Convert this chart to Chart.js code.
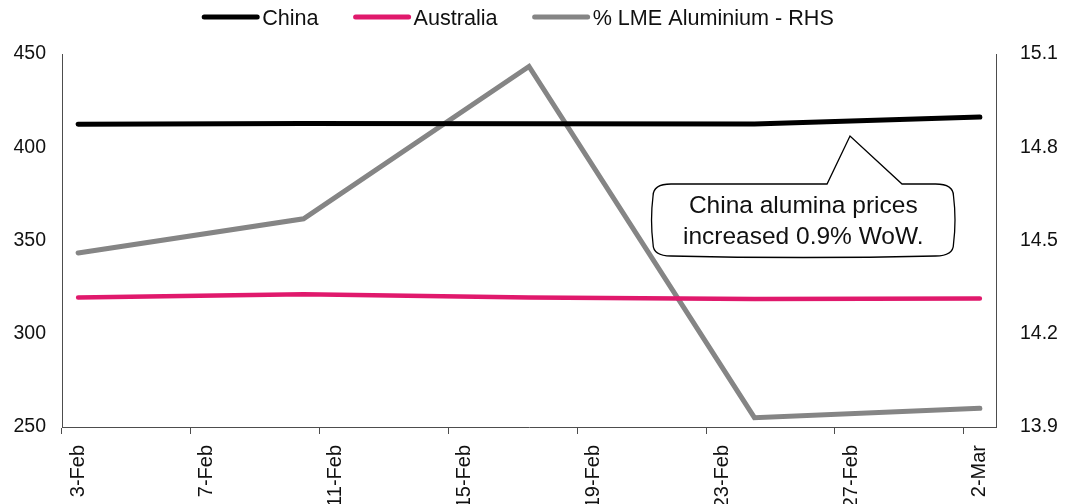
<!DOCTYPE html>
<html>
<head>
<meta charset="utf-8">
<script src="https://cdn.jsdelivr.net/npm/chart.js@4.4.1/dist/chart.umd.min.js"></script>
<style>
  html, body { margin: 0; padding: 0; background: #ffffff; }
  #wrap { width: 1072px; height: 504px; }
</style>
</head>
<body>
<div id="wrap"><canvas id="chart" width="1072" height="504"></canvas></div>
<script>
// Weekly observations (Mondays), alumina prices (LHS) and LME aluminium (RHS)
const weeks = ['3-Feb', '10-Feb', '17-Feb', '24-Feb', '2-Mar'];
const china = [412.3, 412.8, 412.6, 412.5, 416.2];
const australia = [319.5, 321.2, 319.4, 318.6, 318.9];
const lmeAluminium = [14.46, 14.57, 15.06, 13.93, 13.96];

// Labelled dates on the time axis
const tickDays = ['3-Feb', '7-Feb', '11-Feb', '15-Feb', '19-Feb', '23-Feb', '27-Feb', '2-Mar'];
const leftTicks = [250, 300, 350, 400, 450];
const rightTicks = [13.9, 14.2, 14.5, 14.8, 15.1];

const seriesNames = ['China', 'Australia', '% LME Aluminium - RHS'];
const seriesColors = ['#000000', '#e0196c', '#858585'];
const calloutLines = ['China alumina prices', 'increased 0.9% WoW.'];

const FONT = '"Liberation Sans", Arial, Helvetica, sans-serif';
const AXIS_COLOR = '#4d4d4d';

// One category per calendar day, 3-Feb-2020 .. 2-Mar-2020
const MONTHS = ['Jan', 'Feb', 'Mar', 'Apr', 'May', 'Jun', 'Jul', 'Aug', 'Sep', 'Oct', 'Nov', 'Dec'];
const days = [];
for (let d = new Date(2020, 1, 3); d <= new Date(2020, 2, 2); d.setDate(d.getDate() + 1)) {
  days.push(d.getDate() + '-' + MONTHS[d.getMonth()]);
}

const toPoints = (values) => weeks.map((w, i) => ({ x: w, y: values[i] }));

// Legend: short thick line followed directly by the series name
const lineLegend = {
  id: 'lineLegend',
  afterDraw(chart) {
    const ctx = chart.ctx;
    const size = 21.6, lineW = 57, gapText = 3, gapItem = 35, cy = 17;
    ctx.save();
    ctx.font = size + 'px ' + FONT;
    const items = chart.data.datasets.map(ds => ({
      text: ds.label, color: ds.borderColor, w: ctx.measureText(ds.label).width
    }));
    const total = items.reduce((s, it) => s + lineW + gapText + it.w, 0) + gapItem * (items.length - 1);
    let x = (chart.chartArea.left + chart.chartArea.right) / 2 - 11 - total / 2;
    items.forEach(it => {
      ctx.strokeStyle = it.color;
      ctx.lineWidth = 5;
      ctx.lineCap = 'round';
      ctx.beginPath();
      ctx.moveTo(x + 2, cy);
      ctx.lineTo(x + lineW - 2, cy);
      ctx.stroke();
      ctx.fillStyle = '#111111';
      ctx.textAlign = 'left';
      ctx.textBaseline = 'middle';
      ctx.fillText(it.text, x + lineW + gapText, cy + 2);
      x += lineW + gapText + it.w + gapItem;
    });
    ctx.restore();
  }
};

// Speech-bubble note anchored inside the plot area
const calloutNote = {
  id: 'calloutNote',
  afterDraw(chart) {
    const a = chart.chartArea;
    const W = a.right - a.left, H = a.bottom - a.top;
    const px = f => a.left + f * W, py = f => a.top + f * H;
    const L = px(0.6328), R = px(0.9545), T = py(0.3485), B = py(0.5416);
    const tipX = px(0.8437), tipY = py(0.2198), b1 = px(0.8191), b2 = px(0.8994);
    const rx = 18, ry = 12, bulge = 3;
    const ctx = chart.ctx;
    ctx.save();
    ctx.beginPath();
    ctx.moveTo(L + rx, T);
    ctx.lineTo(b1, T);
    ctx.lineTo(tipX, tipY);
    ctx.lineTo(b2, T);
    ctx.lineTo(R - rx, T);
    ctx.quadraticCurveTo(R, T, R, T + ry);
    ctx.quadraticCurveTo(R + bulge, (T + B) / 2, R, B - ry);
    ctx.quadraticCurveTo(R, B, R - rx, B);
    ctx.quadraticCurveTo((L + R) / 2, B + bulge, L + rx, B);
    ctx.quadraticCurveTo(L, B, L, B - ry);
    ctx.quadraticCurveTo(L - bulge, (T + B) / 2, L, T + ry);
    ctx.quadraticCurveTo(L, T, L + rx, T);
    ctx.closePath();
    ctx.fillStyle = '#ffffff';
    ctx.fill();
    ctx.strokeStyle = '#000000';
    ctx.lineWidth = 1.3;
    ctx.lineJoin = 'miter';
    ctx.stroke();
    ctx.fillStyle = '#111111';
    ctx.font = '24.5px ' + FONT;
    ctx.textAlign = 'center';
    ctx.textBaseline = 'alphabetic';
    const cx = (L + R) / 2;
    ctx.fillText(calloutLines[0], cx, py(0.4268));
    ctx.fillText(calloutLines[1], cx, py(0.5099));
    ctx.restore();
  }
};

const lineStyle = {
  borderWidth: 5,
  pointRadius: 0,
  pointHoverRadius: 0,
  tension: 0,
  borderCapStyle: 'round',
  fill: false
};

new Chart(document.getElementById('chart'), {
  type: 'line',
  data: {
    labels: days,
    datasets: [
      Object.assign({ label: seriesNames[0], data: toPoints(china), borderColor: seriesColors[0], backgroundColor: seriesColors[0], yAxisID: 'y' }, lineStyle),
      Object.assign({ label: seriesNames[1], data: toPoints(australia), borderColor: seriesColors[1], backgroundColor: seriesColors[1], yAxisID: 'y' }, lineStyle, { borderWidth: 4.5 }),
      Object.assign({ label: seriesNames[2], data: toPoints(lmeAluminium), borderColor: seriesColors[2], backgroundColor: seriesColors[2], yAxisID: 'y1' }, lineStyle)
    ]
  },
  options: {
    responsive: false,
    animation: false,
    devicePixelRatio: 1,
    layout: { padding: { top: 54, left: 0, right: 0, bottom: 0 } },
    plugins: {
      legend: { display: false },
      tooltip: { enabled: false }
    },
    scales: {
      x: {
        type: 'category',
        offset: true,
        grid: {
          display: true,
          offset: true,
          drawOnChartArea: false,
          drawTicks: true,
          tickLength: 7,
          tickWidth: 1,
          tickColor: ctx => tickDays.includes(days[ctx.index]) ? AXIS_COLOR : 'rgba(0,0,0,0)'
        },
        border: { display: true, color: AXIS_COLOR, width: 1 },
        ticks: {
          autoSkip: false,
          minRotation: 90,
          maxRotation: 90,
          padding: 11,
          color: '#111111',
          font: { family: FONT, size: 20 },
          callback: (v, i) => tickDays.includes(days[i]) ? days[i] : ''
        },
        afterFit: s => { s.height = 77; }
      },
      y: {
        position: 'left',
        min: leftTicks[0],
        max: leftTicks[leftTicks.length - 1],
        grid: { display: false, drawTicks: false },
        border: { display: true, color: AXIS_COLOR, width: 1 },
        afterBuildTicks: s => { s.ticks = leftTicks.map(v => ({ value: v })); },
        ticks: {
          padding: 16,
          color: '#111111',
          font: { family: FONT, size: 19.5 }
        },
        afterFit: s => { s.width = 62; }
      },
      y1: {
        position: 'right',
        min: rightTicks[0],
        max: rightTicks[rightTicks.length - 1],
        grid: { display: false, drawTicks: false },
        border: { display: true, color: AXIS_COLOR, width: 1 },
        afterBuildTicks: s => { s.ticks = rightTicks.map(v => ({ value: v })); },
        ticks: {
          padding: 24,
          color: '#111111',
          font: { family: FONT, size: 19.5 },
          callback: v => Number(v).toFixed(1)
        },
        afterFit: s => { s.width = 76; }
      }
    }
  },
  plugins: [lineLegend, calloutNote]
});
</script>
</body>
</html>
